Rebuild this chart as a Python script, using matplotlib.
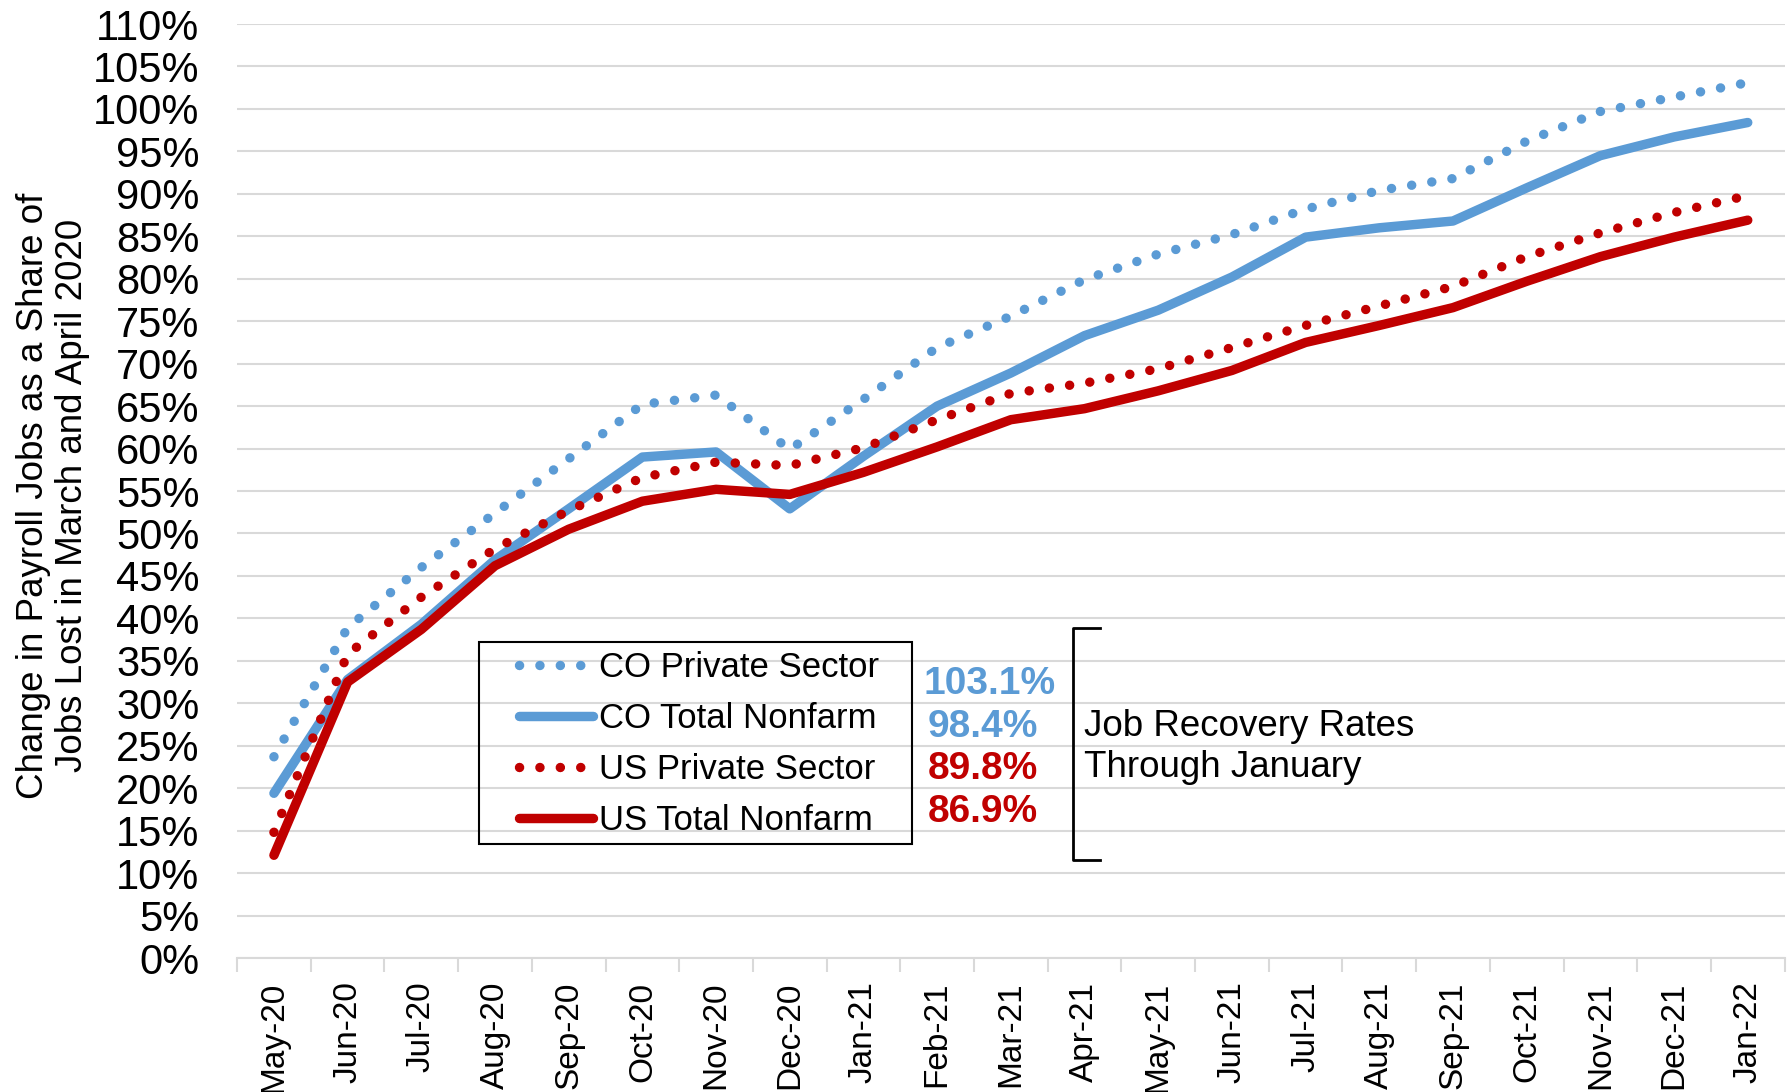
import matplotlib.pyplot as plt
from matplotlib.patches import Rectangle
from matplotlib.ticker import FixedLocator, FuncFormatter

plt.rcParams['font.family'] = ['Liberation Sans', 'DejaVu Sans']

# months on the x axis
months = ["May-20", "Jun-20", "Jul-20", "Aug-20", "Sep-20", "Oct-20", "Nov-20",
          "Dec-20", "Jan-21", "Feb-21", "Mar-21", "Apr-21", "May-21", "Jun-21",
          "Jul-21", "Aug-21", "Sep-21", "Oct-21", "Nov-21", "Dec-21", "Jan-22"]

# share of jobs recovered (%)
co_private = [23.7, 38.9, 46.0, 52.4, 58.8, 65.2, 66.3, 59.9, 65.8, 71.9, 75.6,
              79.9, 82.9, 85.2, 88.2, 90.4, 91.8, 96.2, 99.7, 101.4, 103.1]
co_total = [19.4, 32.8, 39.3, 46.9, 52.9, 59.0, 59.6, 52.9, 59.1, 65.0, 68.9,
            73.3, 76.3, 80.2, 84.9, 86.0, 86.8, 90.7, 94.5, 96.7, 98.4]
us_private = [14.8, 35.8, 42.5, 48.2, 52.7, 56.6, 58.4, 58.0, 60.1, 63.4, 66.5,
              67.7, 69.4, 71.9, 74.5, 76.8, 79.1, 82.6, 85.4, 87.8, 89.8]
us_total = [12.1, 32.5, 38.7, 46.2, 50.5, 53.8, 55.2, 54.6, 57.2, 60.2, 63.4,
            64.7, 66.8, 69.2, 72.5, 74.5, 76.6, 79.7, 82.6, 84.9, 86.9]

final_labels = ["103.1%", "98.4%", "89.8%", "86.9%"]

BLUE = "#5B9BD5"
RED = "#C00000"
LW = 6.8
dots = (0, (0.01, 2.15))

fig = plt.figure(figsize=(17.88, 10.92), dpi=100)
ax = fig.add_axes([0.1326, 0.1227, 0.8655, 0.8553])

x = list(range(len(months)))
ax.plot(x, co_private, color=BLUE, lw=LW, ls=dots, dash_capstyle='round', label="CO Private Sector")
ax.plot(x, co_total, color=BLUE, lw=LW, solid_capstyle='round', label="CO Total Nonfarm")
ax.plot(x, us_private, color=RED, lw=LW, ls=dots, dash_capstyle='round', label="US Private Sector")
ax.plot(x, us_total, color=RED, lw=LW, solid_capstyle='round', label="US Total Nonfarm")

ax.set_xlim(-0.5, len(months) - 0.5)
ax.set_ylim(0, 110)
ax.yaxis.set_major_locator(FixedLocator(range(0, 111, 5)))
ax.yaxis.set_major_formatter(FuncFormatter(lambda v, p: "%d%%" % v))
ax.grid(axis='y', color="#D9D9D9", lw=1.5)
ax.set_axisbelow(True)
ax.tick_params(axis='y', length=0, pad=27, labelsize=30)

ax.set_xticks(x)
ax.set_xticklabels(months, rotation=90, fontsize=24)
ax.set_xticks([i - 0.5 for i in range(len(months) + 1)], minor=True)
ax.tick_params(axis='x', which='major', length=0, pad=17)
ax.tick_params(axis='x', which='minor', length=10, color="#D9D9D9", width=1.5)

for s in ["top", "right", "left"]:
    ax.spines[s].set_visible(False)
ax.spines["bottom"].set_color("#D9D9D9")
ax.spines["bottom"].set_linewidth(1.5)

fig.text(0.0294, 0.546, "Change in Payroll Jobs as a Share of\nJobs Lost in March and April 2020",
         rotation=90, ha='center', va='center', fontsize=26.5, linespacing=1.15)

# legend without frame, box drawn separately (Excel-style wide padding)
leg = ax.legend(loc='upper left', bbox_to_anchor=(519 / 1788, 1 - 651 / 1092),
                bbox_transform=fig.transFigure, fontsize=25, handlelength=2.13,
                handletextpad=0.17, labelspacing=0.52, borderpad=0, borderaxespad=0,
                frameon=False)
fig.add_artist(Rectangle((479 / 1788, 1 - 844 / 1092), 433 / 1788, 202 / 1092,
                         transform=fig.transFigure, fill=False, edgecolor="black", lw=1.5))

# end-of-period values next to the legend
label_colors = [BLUE, BLUE, RED, RED]
label_y = [684, 727, 769, 812]
label_x = [990, 983, 983, 983]
for t, c, lx, ly in zip(final_labels, label_colors, label_x, label_y):
    fig.text(lx / 1788, 1 - ly / 1092, t, color=c, fontsize=28, fontweight='bold',
             ha='center', va='center')

# bracket
bx = [1100 / 1788, 1073 / 1788, 1073 / 1788, 1100 / 1788]
by = [1 - 628 / 1092, 1 - 628 / 1092, 1 - 860 / 1092, 1 - 860 / 1092]
fig.add_artist(plt.Line2D(bx, by, color="black", lw=2, solid_joinstyle='round'))

fig.text(1084 / 1788, 1 - 747 / 1092, "Job Recovery Rates\nThrough January",
         fontsize=26.5, ha='left', va='center', linespacing=1.25)

fig.savefig("out.png", dpi=100)
